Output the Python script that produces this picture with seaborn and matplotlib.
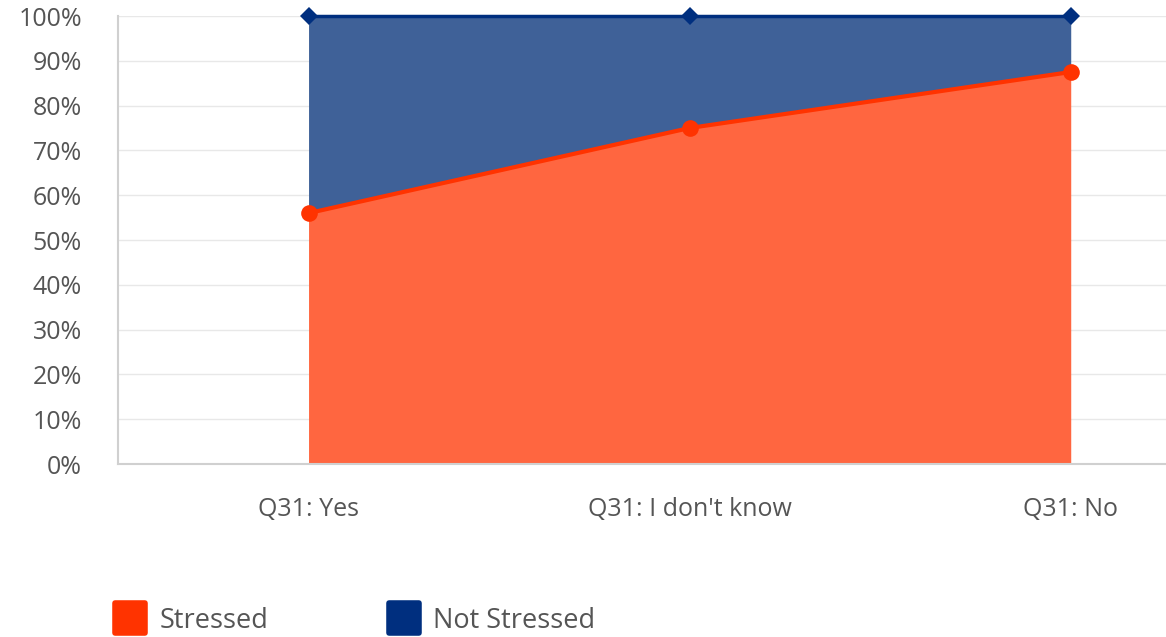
import pandas as pd
import seaborn as sns
import matplotlib.pyplot as plt
from matplotlib.lines import Line2D
from matplotlib.markers import MarkerStyle
from matplotlib.ticker import PercentFormatter


categories = ['Q31: Yes', "Q31: I don't know", 'Q31: No']
stressed = [56.0, 75.0, 87.5]
not_stressed = [44.0, 25.0, 12.5]

orange_line = '#FF3300'
orange_fill = '#FF6640'
blue_line = '#002F7F'
blue_fill = '#3F6198'
text_gray = '#555555'

df = pd.DataFrame({'Category': categories, 'Stressed': stressed, 'Not Stressed': not_stressed})
df['pos'] = range(len(df))
df['top'] = df['Stressed'] + df['Not Stressed']

sns.set_style('white')
plt.rcParams['font.family'] = ['Open Sans', 'DejaVu Sans']

fig = plt.figure(figsize=(11.66, 6.37), dpi=100)
ax = fig.add_axes([118 / 1166, 1 - 464 / 637, 1 - 118 / 1166, (464 - 16) / 637])

ax.fill_between(df['pos'], 0, df['Stressed'], color=orange_fill, lw=0, zorder=2)
ax.fill_between(df['pos'], df['Stressed'], df['top'], color=blue_fill, lw=0, zorder=2)

sns.lineplot(data=df, x='pos', y='top', color=blue_line, lw=2.5, marker='D',
             markersize=9, markeredgewidth=0, ax=ax, zorder=3, clip_on=False)
sns.lineplot(data=df, x='pos', y='Stressed', color=orange_line, lw=3, marker='o',
             markersize=12, markeredgewidth=0, ax=ax, zorder=4, clip_on=False)

ax.set_xlim(-0.5, 2.25)
ax.set_ylim(0, 100)
ax.set_yticks(range(0, 101, 10))
ax.yaxis.set_major_formatter(PercentFormatter(decimals=0))
ax.set_xticks(df['pos'])
ax.set_xticklabels(categories)
ax.set_xlabel('')
ax.set_ylabel('')
ax.tick_params(axis='x', length=0, pad=24, labelsize=18, labelcolor=text_gray)
ax.tick_params(axis='y', length=0, pad=26, labelsize=18, labelcolor=text_gray)

ax.grid(axis='y', color='#e8e8e8', lw=1, zorder=0)
ax.set_axisbelow(True)
for s in ['top', 'right']:
    ax.spines[s].set_visible(False)
for s in ['left', 'bottom']:
    ax.spines[s].set_color('#d0d0d0')
    ax.spines[s].set_linewidth(1.5)

sq = MarkerStyle('s', joinstyle='round')
handles = [
    Line2D([], [], ls='', marker=sq, markersize=22, color=orange_line, markeredgewidth=4),
    Line2D([], [], ls='', marker=sq, markersize=22, color=blue_line, markeredgewidth=4),
]
fig.legend(handles, ['Stressed', 'Not Stressed'], loc='lower left', bbox_to_anchor=(0.067, -0.035),
           ncol=2, frameon=False, fontsize=19.5, labelcolor=text_gray,
           handletextpad=0.1, columnspacing=4.0)

fig.savefig('out.png', dpi=100)
